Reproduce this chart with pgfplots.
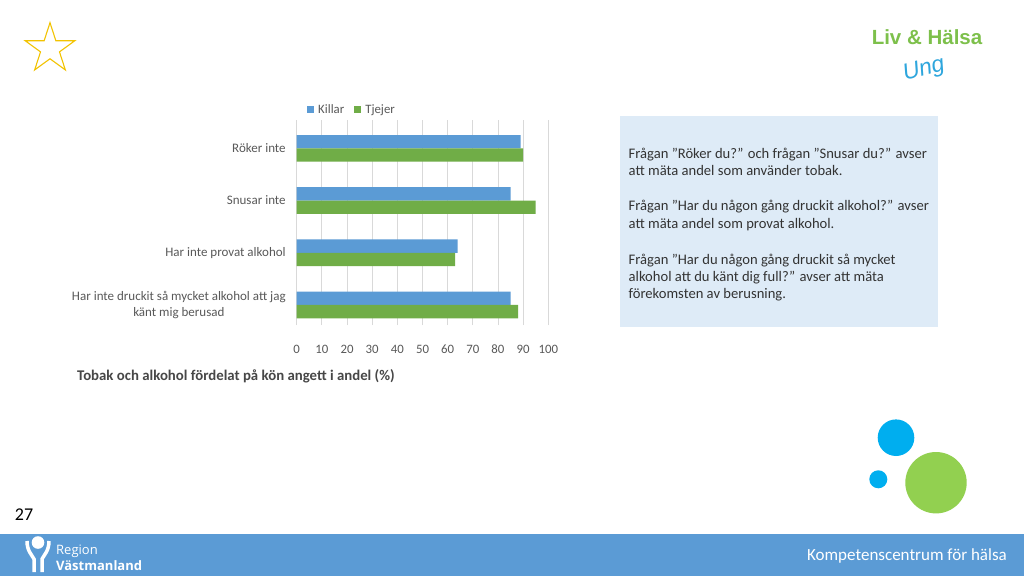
\documentclass[border=0pt]{standalone}
\usepackage{pgfplots}
\pgfplotsset{compat=1.18}
\usepackage{fontspec}
\setmainfont{Carlito}
\newfontfamily\logofont{Open Sans}
\newfontfamily\livfont{Liberation Sans}
\definecolor{kblue}{HTML}{5B9BD5}
\definecolor{tgreen}{HTML}{70AD47}
\definecolor{gridgray}{HTML}{D9D9D9}
\definecolor{labelgray}{HTML}{595959}
\definecolor{boxblue}{HTML}{DEEBF7}
\definecolor{textdark}{HTML}{333333}
\definecolor{bandblue}{HTML}{5B9BD5}
\definecolor{circblue}{HTML}{00AEEF}
\definecolor{circgreen}{HTML}{92D050}
\definecolor{livgreen}{HTML}{7DC04B}
\definecolor{ungblue}{HTML}{2EA6DD}
\definecolor{stargold}{HTML}{F2C300}

\pgfplotstableread{
y killar tjejer
0 85 88
1 64 63
2 85 95
3 89 90
}\datatable

\begin{document}
\begin{tikzpicture}
\begin{scope}[x=1pt,y=1pt]
\path[use as bounding box] (0,0) rectangle (1024,576);
\fill[white] (0,0) rectangle (1024,576);
% star
\begin{scope}[shift={(50,527.2)}]
\draw[stargold, line width=1.1pt, line join=miter]
 (90:26.1) -- (126:9.97) -- (162:26.1) -- (198:9.97) -- (234:26.1) -- (270:9.97) -- (306:26.1) -- (342:9.97) -- (18:26.1) -- (54:9.97) -- cycle;
\end{scope}
% Liv & Halsa
\node[inner sep=0pt, font=\livfont\bfseries\fontsize{20.5}{24}\selectfont, text=livgreen, anchor=center] at (927,539) {Liv \& Hälsa};
\node[inner sep=0pt, font=\livfont\itshape\fontsize{23}{26}\selectfont, text=ungblue, rotate=15, anchor=center] at (924,506) {Ung};
% text box
\fill[boxblue] (620,249.3) rectangle (937.7,460);
\begin{scope}[every node/.style={anchor=base west, inner sep=0pt, font=\fontsize{14.6}{17}\selectfont, text=textdark}]
\node at (628.5,417.7) {Frågan ”Röker du?” och frågan ”Snusar du?” avser};
\node at (628.5,400.3) {att mäta andel som använder tobak.};
\node at (628.5,365) {Frågan ”Har du någon gång druckit alkohol?” avser};
\node at (628.5,347.7) {att mäta andel som provat alkohol.};
\node at (628.5,311) {Frågan ”Har du någon gång druckit så mycket};
\node at (628.5,294.3) {alkohol att du känt dig full?” avser att mäta};
\node at (628.5,277) {förekomsten av berusning.};
\end{scope}
% title
\node[anchor=base west, inner sep=0pt, font=\bfseries\fontsize{14.8}{17}\selectfont, text=textdark!90!white] at (77,195.3) {Tobak och alkohol fördelat på kön angett i andel (\%)};
% circles
\fill[circblue] (896,138.3) circle (18.3);
\fill[circblue] (878.3,96.7) circle (9);
\fill[circgreen] (936,93.3) circle (30.7);
% page number
\node[anchor=center, font=\fontsize{18}{21}\selectfont, text=black] at (24,61) {27};
% bottom band
\fill[bandblue] (0,0) rectangle (1024,42);
\node[anchor=east, inner sep=0pt, font=\fontsize{17}{20}\selectfont, text=white] at (1007,20) {Kompetenscentrum för hälsa};
% logo
\fill[white] (38,33.5) circle (6.3);
\draw[white, line width=3.5pt] (27,35) .. controls (27,25) and (32,21) .. (34,17) -- (34,4);
\draw[white, line width=3.5pt] (49,35) .. controls (49,25) and (44,21) .. (42,17) -- (42,4);
\node[anchor=base west, inner sep=0pt, font=\logofont\fontsize{13}{15}\selectfont, text=white] at (56,22) {Region};
\node[anchor=base west, inner sep=0pt, font=\logofont\bfseries\fontsize{13}{15}\selectfont, text=white] at (56,6) {Västmanland};
\end{scope}

\begin{axis}[
  at={(296.7pt,251pt)}, anchor=south west,
  scale only axis, width=251.6pt, height=205pt,
  xbar, bar width=13.3pt,
  xmin=0, xmax=100, ymin=-0.383, ymax=3.542,
  xtick={0,10,...,100}, ytick={0,1,2,3},
  yticklabels={{Har inte druckit så mycket alkohol att jag\\känt mig berusad}, {Har inte provat alkohol}, {Snusar inte}, {Röker inte}},
  yticklabel style={align=center, font=\fontsize{13}{16}\selectfont, text=labelgray, xshift=-7.5pt},
  xticklabel style={font=\fontsize{12.8}{15}\selectfont, text=labelgray, yshift=-16pt, text height=9pt, text depth=0pt},
  /pgf/number format/assume math mode=true,
  xmajorgrids, major grid style={draw=gridgray, line width=0.8pt},
  axis line style={draw=none}, major tick length=0pt,
  legend style={at={(0.22,1.05)}, anchor=center, draw=none, fill=none, legend columns=2,
    font=\fontsize{12.8}{15}\selectfont, text=labelgray,
    /tikz/every even column/.append style={column sep=8pt}},
  legend image code/.code={\fill[#1,draw=none] (0pt,-3.5pt) rectangle (7pt,3.5pt);},
]
\addplot[fill=kblue, draw=none, bar shift=6.65pt] table[x=killar, y=y] {\datatable};
\addplot[fill=tgreen, draw=none, bar shift=-6.65pt] table[x=tjejer, y=y] {\datatable};
\legend{\hspace{2pt}Killar, \hspace{2pt}Tjejer}
\end{axis}
\end{tikzpicture}
\end{document}
